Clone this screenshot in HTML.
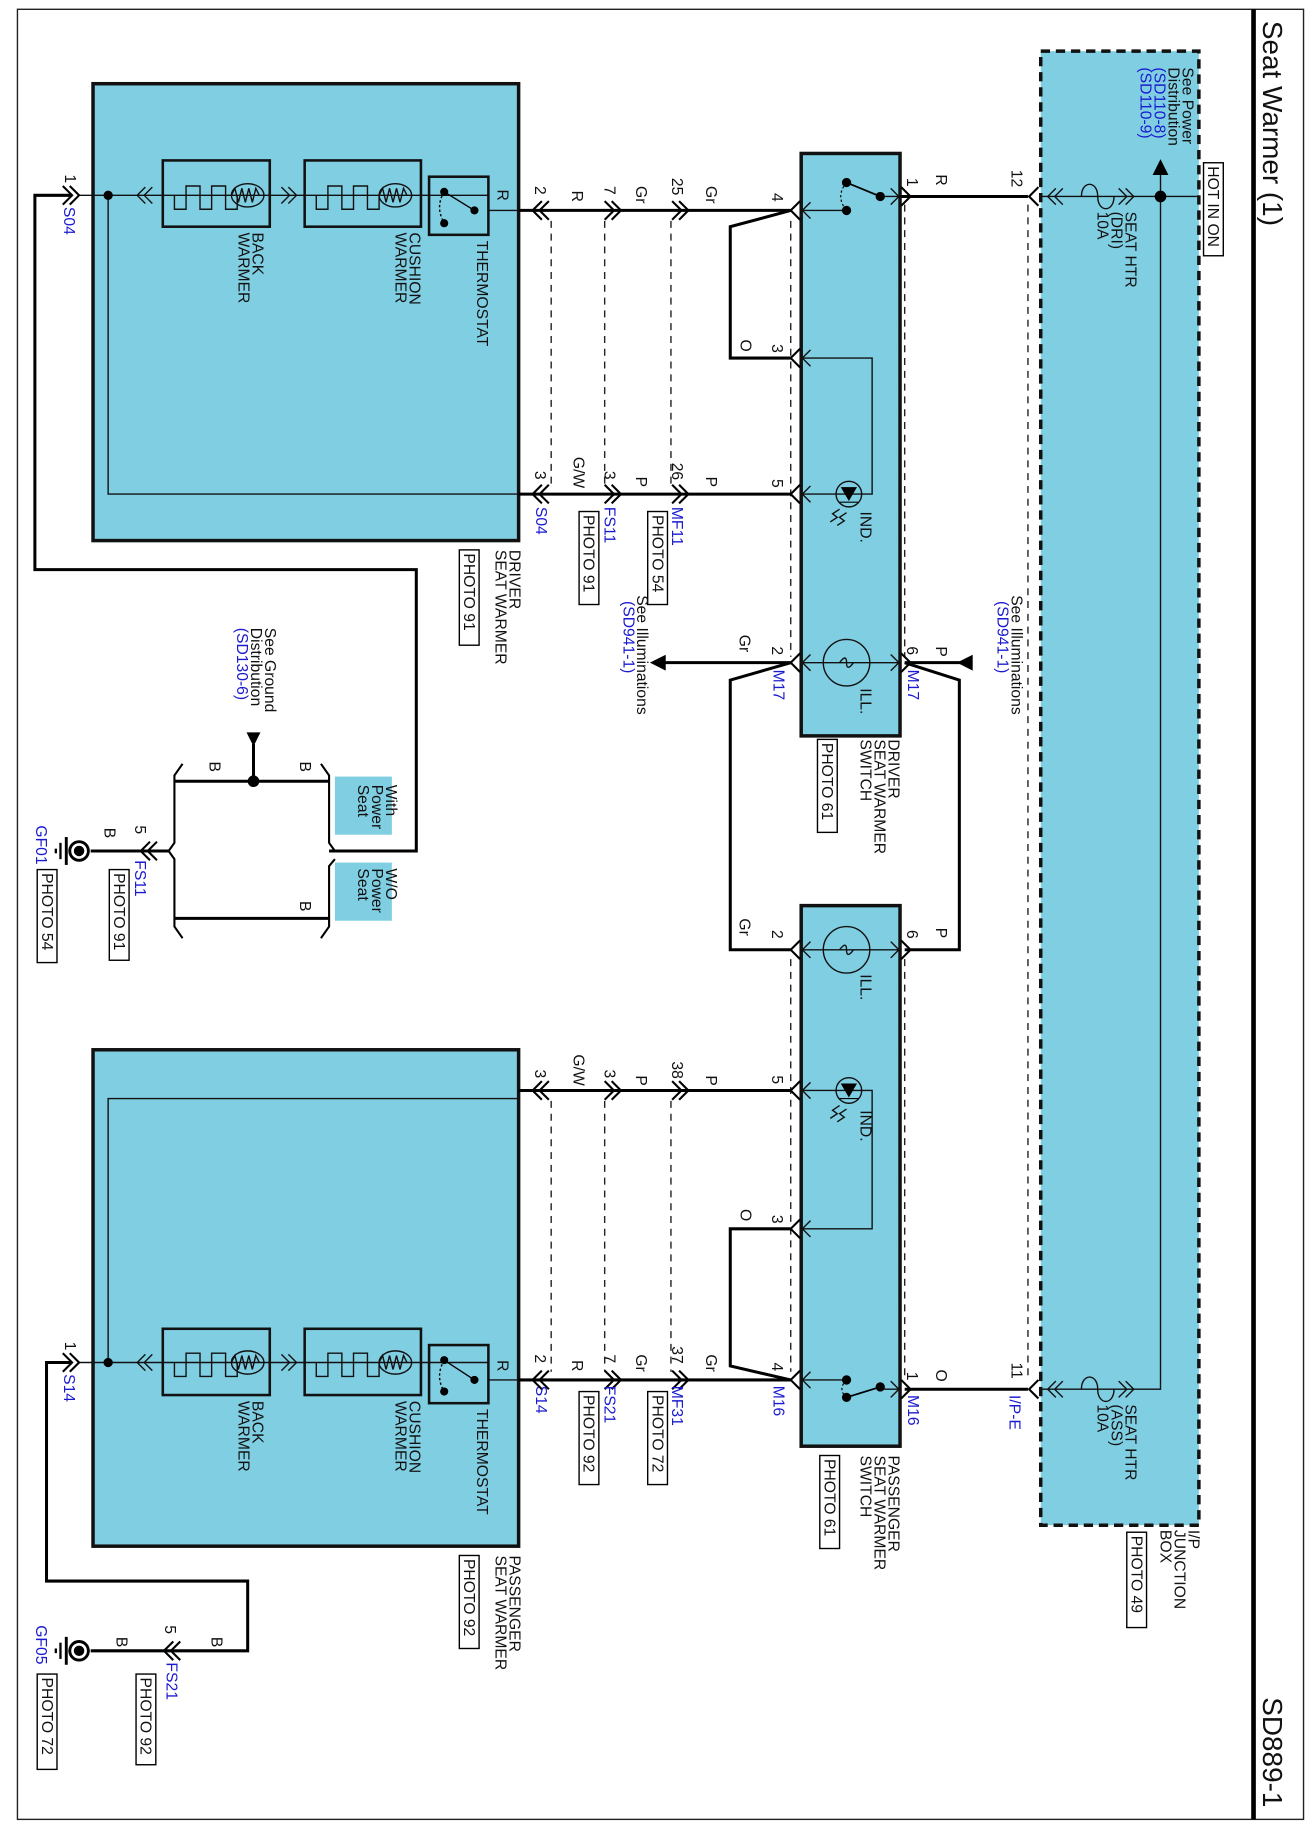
<!DOCTYPE html>
<html><head><meta charset="utf-8"><style>
html,body{margin:0;padding:0;background:#fff}
svg{display:block}
text{font-family:"Liberation Sans",sans-serif;font-size:13.5px;fill:#111}
.b{fill:#1a1ad0}
.t{font-size:24px}
</style></head><body>
<svg width="1314" height="1831" viewBox="0 0 1130 1575" preserveAspectRatio="none" xmlns="http://www.w3.org/2000/svg">
<rect x="0" y="0" width="1130" height="1575" fill="#fff"/>
<rect x="15" y="8" width="1106" height="1557" fill="none" stroke="#222" stroke-width="1.2"/>
<line x1="1078" y1="8" x2="1078" y2="1565" stroke="#000" stroke-width="4"/>
<text class="t" transform="translate(1086,18) rotate(90)">Seat Warmer (1)</text>
<text class="t" transform="translate(1086,1460) rotate(90)">SD889-1</text>

<g fill="#80cee2" stroke="#111">
<rect x="80" y="72" width="366" height="393" stroke-width="3"/>
<rect x="80" y="903" width="366" height="427" stroke-width="3"/>
<rect x="689" y="132" width="85" height="501" stroke-width="3"/>
<rect x="689" y="779" width="85" height="465" stroke-width="3"/>
<rect x="895" y="44" width="136" height="1268" stroke-width="3" stroke-dasharray="8,5"/>
<rect x="288" y="668" width="49" height="50" stroke="none"/>
<rect x="288" y="742" width="49" height="50" stroke="none"/>
</g>

<g stroke="#222" stroke-width="1.2" stroke-dasharray="6,5" fill="none">
<line x1="474" y1="190" x2="474" y2="418"/>
<line x1="520" y1="190" x2="520" y2="418"/>
<line x1="577" y1="190" x2="577" y2="418"/>
<line x1="680" y1="190" x2="680" y2="565"/>
<line x1="778" y1="176" x2="778" y2="565"/>
<line x1="884" y1="176" x2="884" y2="1188"/>
<line x1="474" y1="947" x2="474" y2="1180"/>
<line x1="520" y1="947" x2="520" y2="1180"/>
<line x1="577" y1="947" x2="577" y2="1180"/>
<line x1="680" y1="825" x2="680" y2="1180"/>
<line x1="778" y1="825" x2="778" y2="1188"/>
</g>

<g stroke="#000" stroke-width="2.6" fill="none">
<polyline points="62,168 30,168 30,490 358,490 358,732 283,732"/>
<line x1="446" y1="181" x2="680" y2="181"/>
<line x1="446" y1="425" x2="680" y2="425"/>
<polyline points="680,181 628,195 628,308 680,308"/>
<line x1="774" y1="169" x2="884" y2="169"/>
<line x1="680" y1="570" x2="572" y2="570"/>
<polyline points="680,570 628,585 628,817 680,817"/>
<line x1="778" y1="570" x2="826" y2="570"/>
<polyline points="778,570 825,585 825,817 778,817"/>
<line x1="446" y1="938" x2="680" y2="938"/>
<line x1="446" y1="1187" x2="680" y2="1187"/>
<polyline points="680,1187 628,1175 628,1057 680,1057"/>
<line x1="778" y1="1195" x2="884" y2="1195"/>
<polyline points="62,1172 40,1172 40,1360 213,1360 213,1420 150,1420"/>
<line x1="150" y1="1420" x2="78" y2="1420"/>
<line x1="150" y1="672" x2="283" y2="672"/>
<line x1="150" y1="790" x2="283" y2="790"/>
<line x1="218" y1="640" x2="218" y2="672"/>
<line x1="145" y1="732" x2="78" y2="732"/>
</g>
<g stroke="#000" stroke-width="1.8" fill="none">
<path d="M157,657 L150,667 L150,725 L145,732 L150,739 L150,797 L157,807"/>
<path d="M276,657 L283,667 L283,725 L288,732"/>
<path d="M276,807 L283,797 L283,745 L288,739"/>
</g>
<polygon points="212,630 224,630 218,642" fill="#000"/>
<circle cx="218" cy="672" r="5" fill="#000"/>
<g stroke="#000" fill="none">
<circle cx="68" cy="732" r="8" stroke-width="2.5"/><circle cx="68" cy="732" r="4" fill="#000"/>
<line x1="57" y1="720" x2="57" y2="744" stroke-width="2.5"/><line x1="52" y1="725" x2="52" y2="739" stroke-width="2"/><line x1="48" y1="730" x2="48" y2="734" stroke-width="2"/>
<circle cx="68" cy="1420" r="8" stroke-width="2.5"/><circle cx="68" cy="1420" r="4" fill="#000"/>
<line x1="57" y1="1408" x2="57" y2="1432" stroke-width="2.5"/><line x1="52" y1="1413" x2="52" y2="1427" stroke-width="2"/><line x1="48" y1="1418" x2="48" y2="1422" stroke-width="2"/>
</g>

<g stroke="#111" stroke-width="1.2" fill="none">
<line x1="68" y1="168" x2="420" y2="168"/>
<polyline points="93,168 93,425 446,425"/>
<polyline points="420,181 446,181"/>
<line x1="68" y1="1172" x2="420" y2="1172"/>
<polyline points="93,1172 93,945 446,945"/>
<line x1="420" y1="1187" x2="446" y2="1187"/>
<line x1="689" y1="181" x2="728" y2="181"/>
<polyline points="689,308 750,308 750,425 689,425"/>
<line x1="757" y1="169" x2="774" y2="169"/>
<line x1="689" y1="570" x2="774" y2="570"/>
<line x1="689" y1="817" x2="774" y2="817"/>
<polyline points="689,1057 750,1057 750,938 689,938"/>
<line x1="689" y1="1187" x2="728" y2="1187"/>
<line x1="757" y1="1195" x2="774" y2="1195"/>
<line x1="895" y1="169" x2="1031" y2="169"/>
<polyline points="998,148 998,1195 895,1195"/>
</g>
<g fill="#000" stroke="#000">
<circle cx="728" cy="157" r="3.5"/><circle cx="728" cy="181" r="3.5"/><circle cx="757" cy="169" r="3.5"/>
<line x1="757" y1="169" x2="728" y2="157" stroke-width="1.5"/>
<path d="M728,157 Q718,169 728,181" fill="none" stroke-dasharray="2,2"/>
<circle cx="728" cy="1187" r="3.5"/><circle cx="728" cy="1202" r="3.5"/><circle cx="757" cy="1193" r="3.5"/>
<line x1="757" y1="1193" x2="728" y2="1202" stroke-width="1.5"/>
<path d="M728,1187 Q720,1195 728,1202" fill="none" stroke-dasharray="2,2"/>
<circle cx="93" cy="168" r="3.5"/><circle cx="93" cy="1172" r="3.5"/>
<circle cx="998" cy="169" r="4.5"/>
<polygon points="992,150 1004,150 998,138"/>
<polygon points="572,564 572,576 560,570"/>
<polygon points="836,564 836,576 824,570"/>
</g>
<g stroke="#111" stroke-width="1.2" fill="none">
<circle cx="728" cy="570" r="20"/><path d="M722,570 q6,-8 6,0 q0,8 6,0"/>
<circle cx="728" cy="817" r="20"/><path d="M722,817 q6,-8 6,0 q0,8 6,0"/>
<circle cx="730" cy="425" r="11"/><circle cx="730" cy="938" r="11"/>
<path d="M722,438 l-6,4 l4,3 l-6,4 M728,441 l-6,4 l4,3 l-6,4"/>
<path d="M722,951 l-6,4 l4,3 l-6,4 M728,954 l-6,4 l4,3 l-6,4"/>
</g>
<polygon points="723,419 737,419 730,431" fill="#000"/><line x1="722" y1="432" x2="738" y2="432" stroke="#000"/>
<polygon points="723,932 737,932 730,944" fill="#000"/><line x1="722" y1="945" x2="738" y2="945" stroke="#000"/>

<g stroke="#111" stroke-width="2.2" fill="none">
<rect x="140" y="138" width="92" height="57"/><rect x="262" y="138" width="100" height="57"/><rect x="369" y="152" width="51" height="50"/>
<rect x="140" y="1143" width="92" height="57"/><rect x="262" y="1143" width="100" height="57"/><rect x="369" y="1157" width="51" height="50"/>
</g>
<g stroke="#111" stroke-width="1.2" fill="none">
<path d="M150,168 v12 h10 v-20 h12 v20 h10 v-20 h12 v20 h10 v-12"/>
<ellipse cx="213" cy="168" rx="14" ry="10"/><path d="M199,168 l3,-6 l3,12 l3,-12 l3,12 l3,-12 l3,12 l3,-12 l3,6"/>
<path d="M272,168 v12 h10 v-20 h12 v20 h10 v-20 h12 v20 h10 v-12"/>
<ellipse cx="340" cy="168" rx="14" ry="10"/><path d="M326,168 l3,-6 l3,12 l3,-12 l3,12 l3,-12 l3,12 l3,-12 l3,6"/>
<path d="M150,1172 v12 h10 v-20 h12 v20 h10 v-20 h12 v20 h10 v-12"/>
<ellipse cx="213" cy="1172" rx="14" ry="10"/><path d="M199,1172 l3,-6 l3,12 l3,-12 l3,12 l3,-12 l3,12 l3,-12 l3,6"/>
<path d="M272,1172 v12 h10 v-20 h12 v20 h10 v-20 h12 v20 h10 v-12"/>
<ellipse cx="340" cy="1172" rx="14" ry="10"/><path d="M326,1172 l3,-6 l3,12 l3,-12 l3,12 l3,-12 l3,12 l3,-12 l3,6"/>
<path d="M125,161 l-7,7 l7,7 M131,161 l-7,7 l7,7 M242,161 l7,7 l-7,7 M248,161 l7,7 l-7,7"/>
<path d="M125,1165 l-7,7 l7,7 M131,1165 l-7,7 l7,7 M242,1165 l7,7 l-7,7 M248,1165 l7,7 l-7,7"/>
<path d="M908,162 l-7,7 l7,7 M914,162 l-7,7 l7,7 M962,162 l7,7 l-7,7 M968,162 l7,7 l-7,7"/>
<path d="M930,169 c0,-14 14,-14 14,0 c0,14 14,14 14,0"/>
<path d="M908,1188 l-7,7 l7,7 M914,1188 l-7,7 l7,7 M962,1188 l7,7 l-7,7 M968,1188 l7,7 l-7,7"/>
<path d="M930,1195 c0,-14 14,-14 14,0 c0,14 14,14 14,0"/>
<path d="M697,174 l-7,7 l7,7 M697,301 l-7,7 l7,7 M697,418 l-7,7 l7,7 M697,563 l-7,7 l7,7 M766,563 l7,7 l-7,7 M766,162 l7,7 l-7,7"/>
<path d="M697,810 l-7,7 l7,7 M697,931 l-7,7 l7,7 M697,1050 l-7,7 l7,7 M697,1180 l-7,7 l7,7 M766,810 l7,7 l-7,7 M766,1188 l7,7 l-7,7"/>
</g>
<g fill="#000">
<circle cx="382" cy="165" r="3.5"/><circle cx="408" cy="181" r="3.5"/><circle cx="382" cy="192" r="3.5"/>
<circle cx="382" cy="1170" r="3.5"/><circle cx="408" cy="1187" r="3.5"/><circle cx="382" cy="1197" r="3.5"/>
</g>
<g stroke="#000" stroke-width="1.2" fill="none">
<line x1="408" y1="181" x2="382" y2="165"/><path d="M382,165 Q374,178 382,192" stroke-dasharray="2,2"/>
<line x1="408" y1="1187" x2="382" y2="1170"/><path d="M382,1170 Q374,1184 382,1197" stroke-dasharray="2,2"/>
</g>

<g stroke="#000" stroke-width="1.8" fill="none">
<path d="M60,160 l8,8 l-8,8 M54,160 l8,8 l-8,8"/>
<path d="M60,1164 l8,8 l-8,8 M54,1164 l8,8 l-8,8"/>
<path d="M466,173 l-8,8 l8,8 M472,173 l-8,8 l8,8"/>
<path d="M520,173 l8,8 l-8,8 M526,173 l8,8 l-8,8"/>
<path d="M578,173 l8,8 l-8,8 M584,173 l8,8 l-8,8"/>
<path d="M466,417 l-8,8 l8,8 M472,417 l-8,8 l8,8"/>
<path d="M520,417 l8,8 l-8,8 M526,417 l8,8 l-8,8"/>
<path d="M578,417 l8,8 l-8,8 M584,417 l8,8 l-8,8"/>
<path d="M466,930 l-8,8 l8,8 M472,930 l-8,8 l8,8"/>
<path d="M520,930 l8,8 l-8,8 M526,930 l8,8 l-8,8"/>
<path d="M578,930 l8,8 l-8,8 M584,930 l8,8 l-8,8"/>
<path d="M466,1179 l-8,8 l8,8 M472,1179 l-8,8 l8,8"/>
<path d="M520,1179 l8,8 l-8,8 M526,1179 l8,8 l-8,8"/>
<path d="M578,1179 l8,8 l-8,8 M584,1179 l8,8 l-8,8"/>
<path d="M688,173 l-8,8 l8,8 M688,300 l-8,8 l8,8 M688,417 l-8,8 l8,8 M688,562 l-8,8 l8,8"/>
<path d="M775,161 l8,8 l-8,8 M775,562 l8,8 l-8,8"/>
<path d="M688,809 l-8,8 l8,8 M688,930 l-8,8 l8,8 M688,1049 l-8,8 l8,8 M688,1179 l-8,8 l8,8"/>
<path d="M775,809 l8,8 l-8,8 M775,1187 l8,8 l-8,8"/>
<path d="M893,161 l-8,8 l8,8 M893,1187 l-8,8 l8,8"/>
<path d="M135,724 l-8,8 l8,8 M129,724 l-8,8 l8,8"/>
<path d="M155,1412 l-8,8 l8,8 M149,1412 l-8,8 l8,8"/>
</g>

<g fill="none" stroke="#000" stroke-width="1.2">
<rect x="395" y="473" width="17" height="82"/>
<rect x="498" y="440" width="17" height="80"/>
<rect x="557" y="440" width="17" height="80"/>
<rect x="703" y="636" width="17" height="80"/>
<rect x="1035" y="140" width="17" height="80"/>
<rect x="94" y="748" width="17" height="78"/>
<rect x="32" y="748" width="17" height="80"/>
<rect x="395" y="1338" width="17" height="80"/>
<rect x="498" y="1197" width="17" height="80"/>
<rect x="557" y="1197" width="17" height="80"/>
<rect x="705" y="1252" width="17" height="80"/>
<rect x="969" y="1318" width="17" height="82"/>
<rect x="117" y="1440" width="17" height="78"/>
<rect x="32" y="1440" width="17" height="82"/>
</g>

<g>
<text transform="translate(217,200) rotate(90)">BACK</text><text transform="translate(205,200) rotate(90)">WARMER</text>
<text transform="translate(352,200) rotate(90)">CUSHION</text><text transform="translate(340,200) rotate(90)">WARMER</text>
<text transform="translate(410,207) rotate(90)">THERMOSTAT</text>
<text transform="translate(428,163) rotate(90)">R</text>
<text transform="translate(217,1205) rotate(90)">BACK</text><text transform="translate(205,1205) rotate(90)">WARMER</text>
<text transform="translate(352,1205) rotate(90)">CUSHION</text><text transform="translate(340,1205) rotate(90)">WARMER</text>
<text transform="translate(410,1212) rotate(90)">THERMOSTAT</text>
<text transform="translate(428,1170) rotate(90)">R</text>

<text transform="translate(56,150) rotate(90)">1</text><text class="b" transform="translate(55,178) rotate(90)">S04</text>
<text transform="translate(56,1154) rotate(90)">1</text><text class="b" transform="translate(55,1182) rotate(90)">S14</text>

<text transform="translate(438,473) rotate(90)">DRIVER</text><text transform="translate(426,473) rotate(90)">SEAT WARMER</text><text transform="translate(399,476) rotate(90)">PHOTO 91</text>
<text transform="translate(438,1338) rotate(90)">PASSENGER</text><text transform="translate(426,1338) rotate(90)">SEAT WARMER</text><text transform="translate(399,1341) rotate(90)">PHOTO 92</text>

<text transform="translate(460,160) rotate(90)">2</text>
<text transform="translate(492,164) rotate(90)">R</text>
<text transform="translate(520,160) rotate(90)">7</text>
<text transform="translate(547,160) rotate(90)">Gr</text>
<text transform="translate(578,153) rotate(90)">25</text>
<text transform="translate(607,160) rotate(90)">Gr</text>
<text transform="translate(664,166) rotate(90)">4</text>
<text transform="translate(664,296) rotate(90)">3</text>
<text transform="translate(637,292) rotate(90)">O</text>
<text transform="translate(460,405) rotate(90)">3</text>
<text transform="translate(493,393) rotate(90)">G/W</text>
<text transform="translate(520,405) rotate(90)">3</text>
<text transform="translate(547,410) rotate(90)">P</text>
<text transform="translate(578,398) rotate(90)">26</text>
<text transform="translate(607,410) rotate(90)">P</text>
<text transform="translate(664,412) rotate(90)">5</text>
<text class="b" transform="translate(461,436) rotate(90)">S04</text>
<text class="b" transform="translate(520,436) rotate(90)">FS11</text>
<text class="b" transform="translate(578,436) rotate(90)">MF11</text>
<text transform="translate(502,443) rotate(90)">PHOTO 91</text>
<text transform="translate(561,443) rotate(90)">PHOTO 54</text>

<text transform="translate(740,440) rotate(90)">IND.</text>
<text transform="translate(740,592) rotate(90)">ILL.</text>
<text transform="translate(740,838) rotate(90)">ILL.</text>
<text transform="translate(740,955) rotate(90)">IND.</text>

<text transform="translate(548,512) rotate(90)">See Illuminations</text>
<text class="b" transform="translate(536,517) rotate(90)">(SD941-1)</text>
<text transform="translate(636,546) rotate(90)">Gr</text>
<text transform="translate(664,556) rotate(90)">2</text>
<text class="b" transform="translate(665,576) rotate(90)">M17</text>
<text transform="translate(780,556) rotate(90)">6</text>
<text transform="translate(805,556) rotate(90)">P</text>
<text class="b" transform="translate(781,576) rotate(90)">M17</text>
<text transform="translate(870,512) rotate(90)">See Illuminations</text>
<text class="b" transform="translate(858,517) rotate(90)">(SD941-1)</text>
<text transform="translate(764,636) rotate(90)">DRIVER</text><text transform="translate(752,636) rotate(90)">SEAT WARMER</text><text transform="translate(740,636) rotate(90)">SWITCH</text>
<text transform="translate(707,639) rotate(90)">PHOTO 61</text>

<text transform="translate(780,153) rotate(90)">1</text>
<text transform="translate(805,150) rotate(90)">R</text>
<text transform="translate(870,146) rotate(90)">12</text>

<text transform="translate(636,790) rotate(90)">Gr</text>
<text transform="translate(664,800) rotate(90)">2</text>
<text transform="translate(780,800) rotate(90)">6</text>
<text transform="translate(805,798) rotate(90)">P</text>
<text transform="translate(460,920) rotate(90)">3</text>
<text transform="translate(493,907) rotate(90)">G/W</text>
<text transform="translate(520,920) rotate(90)">3</text>
<text transform="translate(547,925) rotate(90)">P</text>
<text transform="translate(578,913) rotate(90)">38</text>
<text transform="translate(607,925) rotate(90)">P</text>
<text transform="translate(664,925) rotate(90)">5</text>
<text transform="translate(664,1045) rotate(90)">3</text>
<text transform="translate(637,1040) rotate(90)">O</text>
<text transform="translate(460,1165) rotate(90)">2</text>
<text transform="translate(492,1170) rotate(90)">R</text>
<text transform="translate(520,1165) rotate(90)">7</text>
<text transform="translate(547,1165) rotate(90)">Gr</text>
<text transform="translate(578,1158) rotate(90)">37</text>
<text transform="translate(607,1165) rotate(90)">Gr</text>
<text transform="translate(664,1172) rotate(90)">4</text>
<text class="b" transform="translate(461,1192) rotate(90)">S14</text>
<text class="b" transform="translate(520,1192) rotate(90)">FS21</text>
<text class="b" transform="translate(578,1192) rotate(90)">MF31</text>
<text class="b" transform="translate(665,1192) rotate(90)">M16</text>
<text transform="translate(502,1200) rotate(90)">PHOTO 92</text>
<text transform="translate(561,1200) rotate(90)">PHOTO 72</text>
<text transform="translate(780,1180) rotate(90)">1</text>
<text transform="translate(805,1178) rotate(90)">O</text>
<text class="b" transform="translate(781,1200) rotate(90)">M16</text>
<text transform="translate(870,1172) rotate(90)">11</text>
<text class="b" transform="translate(868,1200) rotate(90)">I/P-E</text>
<text transform="translate(764,1252) rotate(90)">PASSENGER</text><text transform="translate(752,1252) rotate(90)">SEAT WARMER</text><text transform="translate(740,1252) rotate(90)">SWITCH</text>
<text transform="translate(709,1255) rotate(90)">PHOTO 61</text>

<text transform="translate(1017,58) rotate(90)">See Power</text>
<text transform="translate(1005,58) rotate(90)">Distribution</text>
<text class="b" transform="translate(993,58) rotate(90)">(SD110-8)</text>
<text class="b" transform="translate(981,58) rotate(90)">(SD110-9)</text>
<text transform="translate(1039,143) rotate(90)">HOT IN ON</text>
<text transform="translate(968,182) rotate(90)">SEAT HTR</text><text transform="translate(956,182) rotate(90)">(DRI)</text><text transform="translate(944,182) rotate(90)">10A</text>
<text transform="translate(968,1208) rotate(90)">SEAT HTR</text><text transform="translate(956,1208) rotate(90)">(ASS)</text><text transform="translate(944,1208) rotate(90)">10A</text>
<text transform="translate(1022,1316) rotate(90)">I/P</text><text transform="translate(1010,1316) rotate(90)">JUNCTION</text><text transform="translate(998,1316) rotate(90)">BOX</text>
<text transform="translate(973,1321) rotate(90)">PHOTO 49</text>

<text transform="translate(228,540) rotate(90)">See Ground</text>
<text transform="translate(216,540) rotate(90)">Distribution</text>
<text class="b" transform="translate(204,540) rotate(90)">(SD130-6)</text>
<text transform="translate(180,655) rotate(90)">B</text>
<text transform="translate(258,655) rotate(90)">B</text>
<text transform="translate(258,775) rotate(90)">B</text>
<text transform="translate(332,675) rotate(90)">With</text><text transform="translate(320,675) rotate(90)">Power</text><text transform="translate(308,675) rotate(90)">Seat</text>
<text transform="translate(332,747) rotate(90)">W/O</text><text transform="translate(320,747) rotate(90)">Power</text><text transform="translate(308,747) rotate(90)">Seat</text>
<text transform="translate(116,710) rotate(90)">5</text>
<text transform="translate(90,712) rotate(90)">B</text>
<text class="b" transform="translate(116,740) rotate(90)">FS11</text>
<text transform="translate(98,751) rotate(90)">PHOTO 91</text>
<text class="b" transform="translate(31,710) rotate(90)">GF01</text>
<text transform="translate(36,751) rotate(90)">PHOTO 54</text>

<text transform="translate(182,1408) rotate(90)">B</text>
<text transform="translate(142,1398) rotate(90)">5</text>
<text transform="translate(100,1408) rotate(90)">B</text>
<text class="b" transform="translate(143,1430) rotate(90)">FS21</text>
<text transform="translate(121,1443) rotate(90)">PHOTO 92</text>
<text class="b" transform="translate(31,1398) rotate(90)">GF05</text>
<text transform="translate(36,1443) rotate(90)">PHOTO 72</text>
</g>
</svg>
</body></html>
